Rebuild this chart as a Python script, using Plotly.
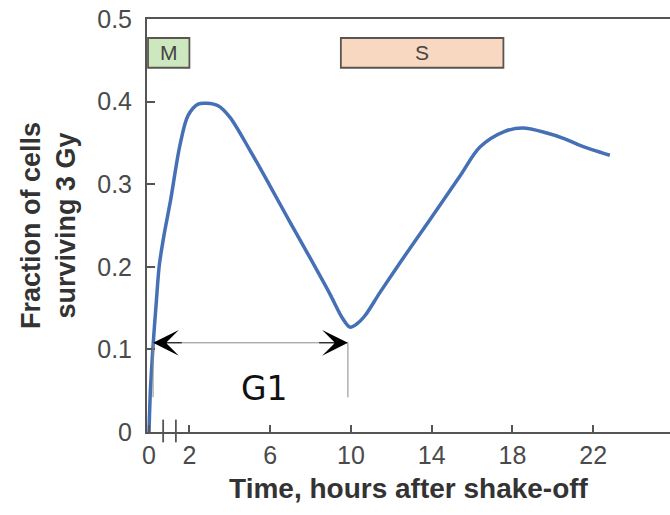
import plotly.graph_objects as go

# ---- data ----
time_h = [0, 0.07, 0.21, 0.35, 0.51, 0.74, 1.07, 1.53, 1.93, 2.43, 2.87,
          3.42, 4.01, 5.0, 5.99, 6.98, 7.97, 8.96, 9.60, 9.95,
          10.30, 10.70, 11.44, 12.43, 13.91, 15.40, 16.39,
          17.62, 18.51, 19.70, 20.59, 21.34, 22.82]
surviving = [0.0, 0.051, 0.108, 0.154, 0.202, 0.238, 0.281, 0.347, 0.383, 0.397,
             0.398, 0.395, 0.381, 0.341, 0.298, 0.254, 0.211, 0.167, 0.137,
             0.127, 0.131, 0.141, 0.169, 0.205, 0.257, 0.310, 0.345,
             0.364, 0.368, 0.362, 0.355, 0.347, 0.335]

x_tickvals = [0, 2, 6, 10, 14, 18, 22]
x_ticktext = ["0", "2", "6", "10", "14", "18", "22"]
y_tickvals = [0, 0.1, 0.2, 0.3, 0.4, 0.5]
y_ticktext = ["0", "0.1", "0.2", "0.3", "0.4", "0.5"]

phase_names = ["M", "S"]
phase_start = [-0.05, 9.5]
phase_end = [2.0, 17.55]
phase_fill = ["#cde8bf", "#f9d8c2"]
phase_band = [0.441, 0.477]

g1_start = 0.2
g1_end = 9.85
g1_level = 0.108
g1_drop = 0.042
axis_break = [0.7, 1.33]

FONT = "Liberation Sans, Arial, Helvetica, sans-serif"

fig = go.Figure()
fig.add_trace(go.Scatter(
    x=time_h, y=surviving, mode="lines",
    line=dict(color="#4670b6", width=3.5, shape="spline", smoothing=0.9),
    hoverinfo="skip", showlegend=False,
))

shapes = []
annotations = []
for name, x0, x1, fc in zip(phase_names, phase_start, phase_end, phase_fill):
    shapes.append(dict(type="rect", xref="x", yref="y", x0=x0, x1=x1,
                       y0=phase_band[0], y1=phase_band[1], fillcolor=fc,
                       line=dict(color="#5a5550", width=1.8), layer="above"))
    annotations.append(dict(x=(x0 + x1) / 2, y=(phase_band[0] + phase_band[1]) / 2,
                            xref="x", yref="y", text=name, showarrow=False,
                            font=dict(family=FONT, size=21, color="#444444")))

# G1 dimension line
shapes.append(dict(type="line", xref="x", yref="y", x0=g1_start, x1=g1_end,
                   y0=g1_level, y1=g1_level, line=dict(color="#8a8a8a", width=1)))
shapes.append(dict(type="line", xref="x", yref="y", x0=g1_start, x1=g1_start,
                   y0=g1_drop, y1=g1_level, line=dict(color="#8a8a8a", width=1)))
shapes.append(dict(type="line", xref="x", yref="y", x0=g1_end, x1=g1_end,
                   y0=g1_drop, y1=g1_level, line=dict(color="#8a8a8a", width=1)))
for tip, tail in [(g1_start, g1_start + 1.5), (g1_end, g1_end - 1.5)]:
    annotations.append(dict(x=tip, y=g1_level, ax=tail, ay=g1_level,
                            xref="x", yref="y", axref="x", ayref="y",
                            text="", showarrow=True, arrowhead=3, arrowsize=4.3,
                            arrowwidth=1, arrowcolor="#000000", standoff=0))
annotations.append(dict(x=(g1_start + g1_end) / 2 + 0.7, y=0.053, xref="x", yref="y",
                        text="G1", showarrow=False,
                        font=dict(family="DejaVu Sans, sans-serif", size=33, color="#111111")))

# axis break marks
shapes.append(dict(type="line", xref="x", yref="y", x0=axis_break[0], x1=axis_break[1],
                   y0=0, y1=0, line=dict(color="white", width=5), layer="above"))
for xb in axis_break:
    shapes.append(dict(type="line", xref="x", yref="paper", x0=xb, x1=xb,
                       y0=-0.025, y1=0.03, line=dict(color="#555555", width=1.8),
                       layer="above"))

fig.update_layout(
    width=670, height=515,
    margin=dict(l=147, r=0, t=19, b=83),
    paper_bgcolor="white", plot_bgcolor="white",
    shapes=shapes, annotations=annotations,
    font=dict(family=FONT),
    xaxis=dict(range=[-0.1, 25.8], tickmode="array", tickvals=x_tickvals,
               ticktext=x_ticktext, ticks="inside", ticklen=7, tickwidth=1.5,
               tickcolor="#555555", showline=True, linecolor="#555555", linewidth=2,
               mirror=True, showgrid=False, zeroline=False,
               tickfont=dict(family=FONT, size=25, color="#4a4a4a"),
               ticklabelstandoff=0,
               title=dict(text="<b>Time, hours after shake-off</b>",
                          font=dict(family=FONT, size=28, color="#333333"), standoff=10)),
    yaxis=dict(range=[0, 0.5], tickmode="array", tickvals=y_tickvals,
               ticktext=y_ticktext, ticks="inside", ticklen=8, tickwidth=1.5,
               tickcolor="#555555", showline=True, linecolor="#555555", linewidth=2,
               showgrid=False, zeroline=False,
               tickfont=dict(family=FONT, size=25, color="#4a4a4a"),
               ticklabelstandoff=8,
               title=dict(text="<b>Fraction of cells<br>surviving 3 Gy</b>",
                          font=dict(family=FONT, size=27, color="#333333"), standoff=14)),
)

fig.write_html("out.html")
